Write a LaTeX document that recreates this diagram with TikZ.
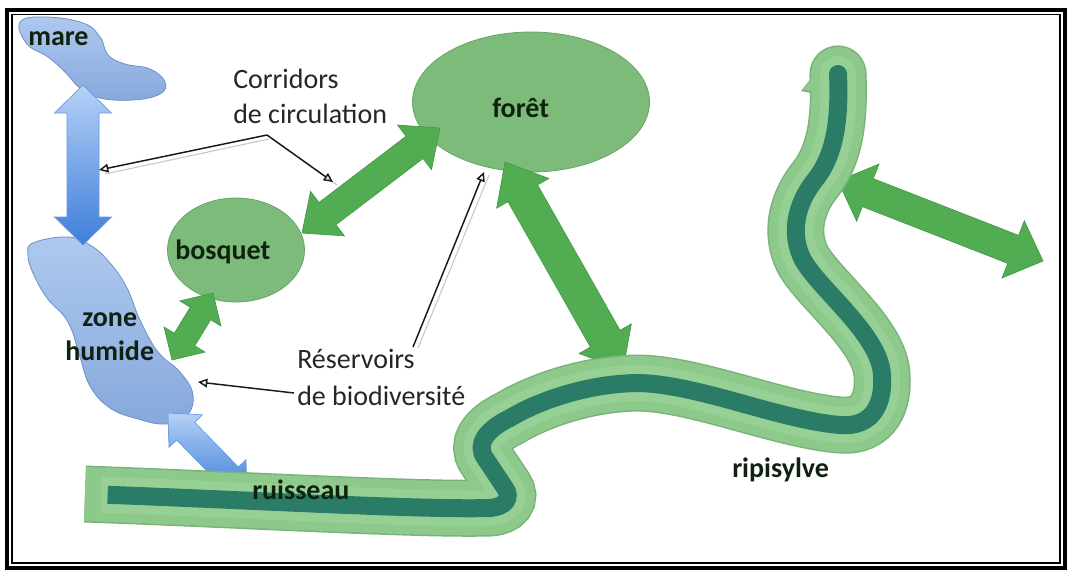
\documentclass[tikz,border=0pt]{standalone}
\usepackage{fontspec}
\setmainfont{Carlito}
\usetikzlibrary{calc,arrows.meta,shapes.geometric}
\definecolor{blobtop}{HTML}{AEC9EF}
\definecolor{blobbot}{HTML}{86A8DC}
\definecolor{blobedge}{HTML}{6F8FC4}
\definecolor{ellgreen}{HTML}{7DBB7A}
\definecolor{elledge}{HTML}{68A468}
\definecolor{arrgreen}{HTML}{52AC52}
\definecolor{arredge}{HTML}{449A47}
\definecolor{bandgreen}{HTML}{8CC98B}
\definecolor{bandinner}{HTML}{97D095}
\definecolor{bandedge}{HTML}{7AB37A}
\definecolor{rivdark}{HTML}{2A7C66}
\definecolor{arrbluetop}{HTML}{B5D1F6}
\definecolor{arrbluebot}{HTML}{3E7EDA}
\definecolor{arrblueedge}{HTML}{6A98DC}
\definecolor{labeldark}{HTML}{0F220F}
\newcommand\dblarrow[6][]{%
  \coordinate (#2h) at ($(#2)!#4!(#3)$);
  \coordinate (#3h) at ($(#3)!#4!(#2)$);
  \path[#1] (#2) -- ($(#2h)!#5!90:(#3)$) -- ($(#2h)!#6!90:(#3)$)
    -- ($(#3h)!#6!-90:(#2)$) -- ($(#3h)!#5!-90:(#2)$) -- (#3)
    -- ($(#3h)!#5!90:(#2)$) -- ($(#3h)!#6!90:(#2)$)
    -- ($(#2h)!#6!-90:(#3)$) -- ($(#2h)!#5!-90:(#3)$) -- cycle;}
\def\riverrest{.. controls (250,500) and (420,510) .. (490,508)
  .. controls (505,507) and (512,498) .. (505,488) -- (485,458)
  .. controls (476,445) and (485,430) .. (510,418)
  .. controls (540,400) and (590,383) .. (640,383)
  .. controls (700,385) and (780,420) .. (840,425)
  .. controls (875,428) and (884,400) .. (882,375)
  .. controls (880,335) and (820,290) .. (803,260)
  .. controls (790,235) and (795,205) .. (815,180)
  .. controls (835,155) and (840,120) .. (838,74)}
\tikzset{
  lbl/.style={font=\bfseries\fontsize{21}{25}\selectfont, text=labeldark, inner sep=0pt, anchor=base west},
  captxt/.style={font=\fontsize{21}{25}\selectfont, text=black!85, inner sep=0pt, anchor=base west},
  greenarrow/.style={fill=arrgreen, draw=arredge, line width=0.5pt},
  bluearrow/.style={top color=arrbluetop, bottom color=arrbluebot, draw=arrblueedge, line width=0.5pt},
  blob/.style={top color=blobtop, bottom color=blobbot, draw=blobedge, line width=0.6pt},
  wood/.style={ellipse, fill=ellgreen, draw=elledge, line width=0.6pt, inner sep=0pt},
  callout/.style={draw=black!90, line width=1.1pt, -{Triangle[open, length=7pt, width=6.5pt]}},
  calloutshadow/.style={draw=black!22, line width=0.8pt}
}
\begin{document}
\begin{tikzpicture}[x=0.75pt, y=-0.75pt]
\useasboundingbox (0,0) rectangle (1071,572);
\fill[white] (0,0) rectangle (1071,572);

% water bodies
\path[blob] plot[smooth cycle, tension=0.7] coordinates {(20,22) (45,17) (83,23) (100,37) (108,55) (125,64) (150,69) (165,82) (160,94) (133,100) (100,98) (80,88) (65,72) (48,57) (27,44)};
\coordinate (mare) at (83,85);
\path[blob] plot[smooth cycle, tension=0.7] coordinates {(33,243) (67,237) (90,245) (110,263) (127,288) (140,320) (158,352) (180,372) (193,395) (186,417) (165,424) (138,419) (110,408) (90,386) (80,357) (68,322) (47,298) (33,273) (28,255)};
\coordinate (zh) at (83,245);

% woods
\node[wood, minimum width=102.75pt, minimum height=78pt] (bosquet) at (236,250) {};
\node[wood, minimum width=177.75pt, minimum height=105pt] (foret) at (531,102) {};

% connector arrows
\dblarrow[bluearrow]{mare}{zh}{21pt}{21.4pt}{12pt}
\coordinate (zhb) at (168,413);
\coordinate (ruis) at (247,494);
\dblarrow[bluearrow]{zhb}{ruis}{19pt}{17.5pt}{9.5pt}
\coordinate (bq1) at (213,293);
\coordinate (zh2) at (172,360);
\dblarrow[greenarrow]{bq1}{zh2}{18pt}{18pt}{9pt}
\coordinate (bq2) at (302,233);
\coordinate (fo1) at (440,128);
\dblarrow[greenarrow]{bq2}{fo1}{24pt}{21pt}{10.5pt}
\coordinate (fo2) at (505,162);
\coordinate (rv1) at (623,370);
\dblarrow[greenarrow]{fo2}{rv1}{27pt}{22.5pt}{12.75pt}
\coordinate (rv2) at (838,181);
\coordinate (out) at (1043,261);
\dblarrow[greenarrow]{rv2}{out}{24pt}{23pt}{11.25pt}

% river and riparian strip
\fill[bandedge] (813,76) -- (801,91) -- (816,94) -- cycle;
\draw[bandedge, line width=42.75pt] (85,494) \riverrest;
\fill[bandedge] (838,74) circle[radius=21.4pt];
\fill[bandgreen] (812,78) -- (803,90) -- (816,92) -- cycle;
\draw[bandgreen, line width=40.5pt] (85,494) \riverrest;
\fill[bandgreen] (838,74) circle[radius=20.25pt];
\draw[bandinner, line width=27pt, shorten <=12pt] (85,494) \riverrest;
\fill[bandinner] (838,74) circle[radius=13.5pt];
\draw[rivdark, line width=13.5pt, shorten <=17pt] (85,494) \riverrest;
\fill[rivdark] (838,74) circle[radius=6.75pt];

% labels
\node[lbl] (tmare) at (28,45) {mare};
\node[lbl] (tbosquet) at (175,259) {bosquet};
\node[lbl] (tforet) at (492,117) {forêt};
\node[lbl] (tzone) at (82,326) {zone};
\node[lbl] (thumide) at (65,360) {humide};
\node[lbl] (truis) at (252,499) {ruisseau};
\node[lbl] (tripi) at (732,477) {ripisylve};
\node[captxt] (tcorr1) at (233,88) {Corridors};
\node[captxt] (tcorr2) at (233,123) {de circulation};
\node[captxt] (tres1) at (297,368) {Réservoirs};
\node[captxt] (tres2) at (297,405) {de biodiversité};

% callouts
\coordinate (cj) at (267,135);
\coordinate (ct1) at (99,170);
\coordinate (ct2) at (333,182);
\coordinate (rj1) at (413,347);
\coordinate (rt1) at (484,172);
\coordinate (rj2) at (294,393);
\coordinate (rt2) at (198,382);
\draw[calloutshadow] ([shift={(2,4)}]cj) -- ([shift={(6,4)}]ct1);
\draw[calloutshadow] ([shift={(4,3)}]cj) -- ([shift={(4,3)}]ct2);
\draw[calloutshadow] ([shift={(5,1)}]rj1) -- ([shift={(5,3)}]rt1);
\draw[callout] (cj) -- (ct1);
\draw[callout] (cj) -- (ct2);
\draw[callout] (rj1) -- (rt1);
\draw[callout] (rj2) -- (rt2);

% frame
\draw[black, line width=3pt] (7,9.5) rectangle (1065,568);
\draw[black, line width=0.9pt] (12,14.5) rectangle (1060,563);
\end{tikzpicture}
\end{document}
